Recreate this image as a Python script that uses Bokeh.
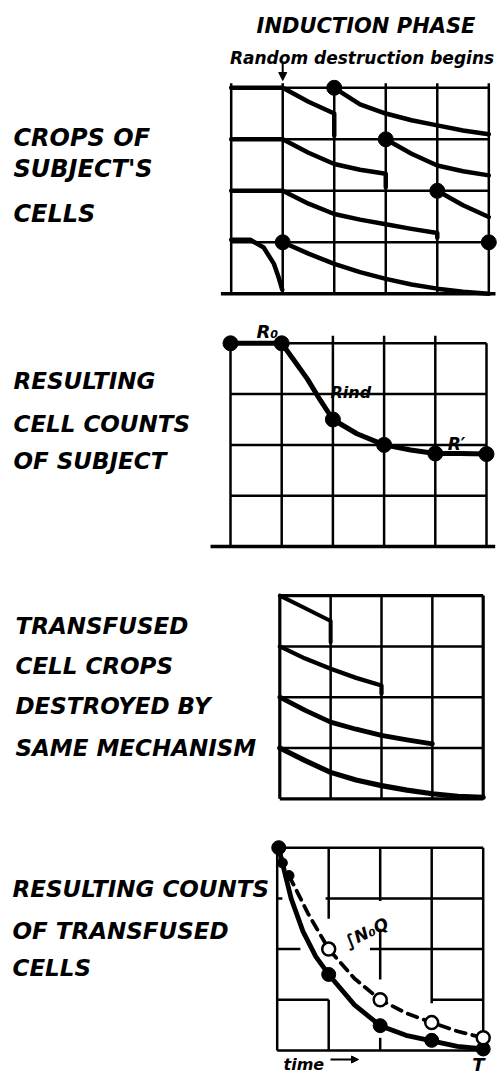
from bokeh.plotting import figure
from bokeh.layouts import column
from bokeh.models import Arrow, NormalHead, OpenHead
from bokeh.core.properties import value
from bokeh.embed import file_html
from bokeh.resources import INLINE

# ---------------- DATA (time and level in grid units) ----------------
# Panel 1: crops of subject's cells
p1_a1_t = [0, 1, 1.5, 2, 2]
p1_a1_v = [4, 4, 3.73, 3.5, 3.07]
p1_a2_t = [2, 2.5, 3, 3.5, 4, 4.5, 5]
p1_a2_v = [4, 3.68, 3.5, 3.37, 3.27, 3.17, 3.1]
p1_b1_t = [0, 1, 1.5, 2, 2.5, 3, 3]
p1_b1_v = [3, 3, 2.74, 2.52, 2.41, 2.33, 2.07]
p1_b2_t = [3, 3.5, 4, 4.5, 5]
p1_b2_v = [3, 2.72, 2.49, 2.38, 2.3]
p1_c1_t = [0, 1, 1.5, 2, 2.5, 3, 3.5, 4, 4]
p1_c1_v = [2, 2, 1.75, 1.55, 1.44, 1.35, 1.26, 1.18, 1.09]
p1_c2_t = [4, 4.5, 5]
p1_c2_v = [2, 1.72, 1.49]
p1_d0_t = [0, 0.37, 0.63, 0.83, 0.92, 0.99]
p1_d0_v = [1.05, 1.05, 0.9, 0.58, 0.32, 0.08]
p1_d1_t = [1, 1.5, 2, 2.5, 3, 3.5, 4, 4.5, 5]
p1_d1_v = [1, 0.78, 0.58, 0.42, 0.29, 0.18, 0.1, 0.04, 0.0]
p1_dot_t = [2, 3, 4, 1, 5]
p1_dot_v = [4, 3, 2, 1, 1]

# Panel 2: resulting cell counts of subject
p2_t = [0, 1, 1.25, 1.5, 1.76, 2, 2.47, 3, 3.52, 4, 4.49, 5]
p2_v = [4, 4, 3.65, 3.3, 2.87, 2.5, 2.22, 2.0, 1.9, 1.83, 1.83, 1.82]
p2_dot_t = [0, 1, 2, 3, 4, 5]
p2_dot_v = [4, 4, 2.5, 2.0, 1.83, 1.82]

# Panel 3: transfused cell crops
p3_c1_t = [0, 0.5, 1, 1]
p3_c1_v = [4, 3.75, 3.5, 3.08]
p3_c2_t = [0, 0.5, 1, 1.5, 2, 2]
p3_c2_v = [3, 2.76, 2.56, 2.38, 2.23, 2.07]
p3_c3_t = [0, 0.5, 1, 1.5, 2, 2.5, 3]
p3_c3_v = [2, 1.74, 1.51, 1.37, 1.25, 1.16, 1.08]
p3_c4_t = [0, 0.5, 1, 1.5, 2, 2.5, 3, 3.5, 4]
p3_c4_v = [1, 0.75, 0.52, 0.37, 0.26, 0.17, 0.1, 0.05, 0.03]

# Panel 4: resulting counts of transfused cells
p4_solid_t = [0.03, 0.1, 0.27, 0.5, 0.75, 1, 1.5, 2, 2.5, 3, 3.5, 4]
p4_solid_v = [4, 3.7, 3.0, 2.35, 1.85, 1.5, 0.9, 0.49, 0.3, 0.19, 0.08, 0.03]
p4_fdot_t = [0.03, 1, 2, 3, 4]
p4_fdot_v = [4, 1.5, 0.49, 0.2, 0.03]
p4_small_t = [0.1, 0.23]
p4_small_v = [3.7, 3.45]
p4_dash_t = [0.23, 0.6, 1, 1.5, 2, 2.5, 3, 3.5, 4]
p4_dash_v = [3.45, 2.7, 2.0, 1.42, 1.0, 0.74, 0.55, 0.38, 0.25]
p4_odot_t = [1, 2, 3, 4]
p4_odot_v = [2.0, 1.0, 0.55, 0.25]

# Panel 4 broken grid (segments)
p4_gx0 = [0, 0, 4, 0, 0, 0.94, 0, 1.8, 0, 3, 1, 1, 2, 2, 2, 3]
p4_gy0 = [4, 0, 0, 0, 3, 3, 2, 2, 1, 1, 2.6, 0, 2.95, 1.4, 0, 0.93]
p4_gx1 = [4, 0, 4, 4, 0.1, 4, 0.45, 4, 1, 4, 1, 1, 2, 2, 2, 3]
p4_gy1 = [4, 4, 4, 0, 3, 3, 2, 2, 1, 1, 4, 1, 4, 2.4, 0.25, 4]

FONT = value("DejaVu Sans")
PAGE_W = 502


def make_fig(top, height, x0p, ux, y0p, uy):
    xs = (0 - x0p) / ux
    xe = (PAGE_W - x0p) / ux
    ye = (y0p - top) / uy
    ys = (y0p - (top + height)) / uy
    p = figure(width=PAGE_W, height=height, x_range=(xs, xe), y_range=(ys, ye),
               output_backend="svg", toolbar_location=None,
               x_axis_location=None, y_axis_location=None,
               min_border=0, outline_line_color=None)
    p.grid.visible = False
    p.background_fill_color = "white"
    p.border_fill_color = "white"

    def pos(px, py):
        return (px - x0p) / ux, (y0p - py) / uy
    return p, pos


def label(p, pos, txt, px, py, size, align="left", angle=0.0, style="bold italic"):
    x, y = pos(px, py)
    p.text(x=[x], y=[y], text=[txt], text_font=FONT, text_font_size=f"{size}px",
           text_font_style=style, text_align=align, text_baseline="alphabetic",
           angle=angle, text_color="black")


def curve(p, t, v, w=4.5, dash="solid"):
    p.line(t, v, line_width=w, line_color="black", line_cap="round",
           line_join="round", line_dash=dash)


def seg(p, x0, y0, x1, y1, w=2.5):
    p.segment(x0=x0, y0=y0, x1=x1, y1=y1, line_width=w, line_color="black",
              line_cap="butt")

# ---------------- Figure 1 ----------------
f1, pos1 = make_fig(0, 305, 230.7, 51.52, 293.3, 51.5)
seg(f1, [0, 1, 2, 3, 4, 5], [0] * 6, [0, 1, 2, 3, 4, 5], [4.09] * 6)
seg(f1, [0] * 4, [1, 2, 3, 4], [5] * 4, [1, 2, 3, 4])
seg(f1, [-0.2], [0], [5.13], [0], w=3.5)
for t, v in [(p1_a1_t, p1_a1_v), (p1_a2_t, p1_a2_v), (p1_b1_t, p1_b1_v),
             (p1_b2_t, p1_b2_v), (p1_c1_t, p1_c1_v), (p1_c2_t, p1_c2_v),
             (p1_d0_t, p1_d0_v), (p1_d1_t, p1_d1_v)]:
    curve(f1, t, v)
f1.scatter(p1_dot_t, p1_dot_v, size=15, color="black")
ax, ay0 = pos1(282.7, 63)
_, ay1 = pos1(282.7, 80)
f1.add_layout(Arrow(end=NormalHead(size=8, fill_color="black", line_color="black"),
                    x_start=1, y_start=ay0, x_end=1, y_end=ay1,
                    line_width=2, line_color="black"))
label(f1, pos1, "INDUCTION PHASE", 365.5, 25, 21, align="center")
label(f1, pos1, "Random destruction begins", 361.5, 57, 17, align="center")
label(f1, pos1, "CROPS OF", 13, 137, 24)
label(f1, pos1, "SUBJECT'S", 13, 168, 24)
label(f1, pos1, "CELLS", 13, 213, 24)

# ---------------- Figure 2 ----------------
f2, pos2 = make_fig(305, 255, 230.0, 51.2, 546.0, 50.8)
seg(f2, [0, 1, 5], [0, 0, 0], [0, 1, 5], [4, 4, 4])
seg(f2, [2, 3, 4], [0, 0, 0], [2, 3, 4], [4.15, 4.15, 4.15])
seg(f2, [0, 0, 0, 1], [1, 2, 3, 4], [5, 5, 5, 5], [1, 2, 3, 4])
seg(f2, [-0.39], [0], [5.17], [0], w=3.5)
curve(f2, p2_t, p2_v, w=5)
f2.scatter(p2_dot_t, p2_dot_v, size=15, color="black")
label(f2, pos2, "R\u2080", 256, 331, 18)
label(f2, pos2, "Rind", 330, 392, 16)
label(f2, pos2, "R\u2032", 456, 443, 17, align="center")
label(f2, pos2, "RESULTING", 13, 380, 23)
label(f2, pos2, "CELL COUNTS", 13, 423, 23)
label(f2, pos2, "OF SUBJECT", 13, 460, 23)

# ---------------- Figure 3 ----------------
f3, pos3 = make_fig(560, 260, 279.3, 50.85, 798.3, 50.8)
seg(f3, [1, 2, 3], [0] * 3, [1, 2, 3], [4] * 3)
seg(f3, [0] * 3, [1, 2, 3], [4] * 3, [1, 2, 3])
seg(f3, [0, 4, 0, 0], [0, 0, 4, 0], [0, 4, 4, 4], [4, 4, 4, 0], w=3.2)
curve(f3, p3_c1_t, p3_c1_v, w=4)
curve(f3, p3_c2_t, p3_c2_v, w=4.3)
curve(f3, p3_c3_t, p3_c3_v, w=4.8)
curve(f3, p3_c4_t, p3_c4_v, w=5.2)
label(f3, pos3, "TRANSFUSED", 15, 625, 23)
label(f3, pos3, "CELL CROPS", 15, 665, 23)
label(f3, pos3, "DESTROYED  BY", 15, 705, 23)
label(f3, pos3, "SAME MECHANISM", 15, 747, 23)

# ---------------- Figure 4 ----------------
f4, pos4 = make_fig(820, 254, 276.7, 51.5, 1050.0, 50.7)
seg(f4, p4_gx0, p4_gy0, p4_gx1, p4_gy1)
curve(f4, p4_dash_t, p4_dash_v, w=3.8, dash="10 7")
curve(f4, p4_solid_t, p4_solid_v, w=4.8)
f4.scatter(p4_fdot_t, p4_fdot_v, size=14, color="black")
f4.scatter(p4_small_t, p4_small_v, size=10, color="black")
f4.scatter(p4_odot_t, p4_odot_v, size=13, fill_color="white", line_color="black",
           line_width=2.5)
label(f4, pos4, "\u222bN\u2080Q", 366, 932, 17, align="center", angle=0.45)
label(f4, pos4, "time", 283, 1064, 16)
tx0, ty = pos4(330, 1059)
tx1, _ = pos4(358, 1059)
f4.add_layout(Arrow(end=NormalHead(size=7, fill_color="black", line_color="black"),
                    x_start=tx0, y_start=ty, x_end=tx1, y_end=ty,
                    line_width=2, line_color="black"))
label(f4, pos4, "T", 478, 1064, 18, align="center")
label(f4, pos4, "RESULTING COUNTS", 12, 888, 23)
label(f4, pos4, "OF TRANSFUSED", 12, 930, 23)
label(f4, pos4, "CELLS", 12, 967, 23)

layout = column(f1, f2, f3, f4, spacing=0)
open("out.html", "w").write(file_html(layout, INLINE))
